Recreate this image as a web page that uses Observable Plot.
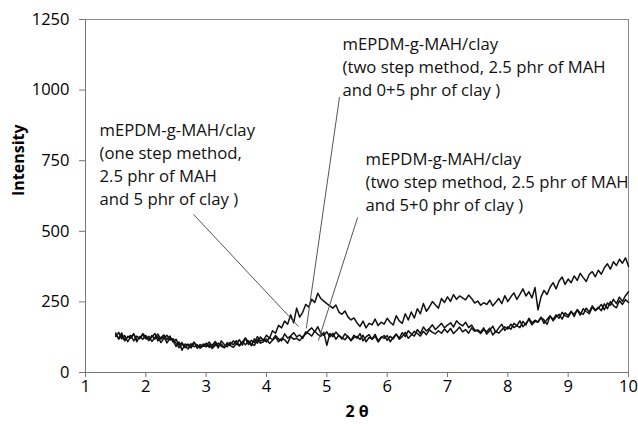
<!DOCTYPE html>
<html><head><meta charset="utf-8">
<script src="https://cdn.jsdelivr.net/npm/d3@7"></script>
<script src="https://cdn.jsdelivr.net/npm/@observablehq/plot@0.6"></script>
<style>body{margin:0;background:#fff} #chart{width:638px;height:425px}</style>
</head><body><div id="chart"></div>
<script>
const twoTheta = [
1.50,1.55,1.60,1.65,1.70,1.75,1.80,1.85,1.90,1.95,
2.00,2.05,2.10,2.15,2.20,2.25,2.30,2.35,2.40,2.45,
2.50,2.55,2.60,2.65,2.70,2.75,2.80,2.85,2.90,2.95,
3.00,3.05,3.10,3.15,3.20,3.25,3.30,3.35,3.40,3.45,
3.50,3.55,3.60,3.65,3.70,3.75,3.80,3.85,3.90,3.95,
4.00,4.05,4.10,4.15,4.20,4.25,4.30,4.35,4.40,4.45,
4.50,4.55,4.60,4.65,4.70,4.75,4.80,4.85,4.90,4.95,
5.00,5.05,5.10,5.15,5.20,5.25,5.30,5.35,5.40,5.45,
5.50,5.55,5.60,5.65,5.70,5.75,5.80,5.85,5.90,5.95,
6.00,6.05,6.10,6.15,6.20,6.25,6.30,6.35,6.40,6.45,
6.50,6.55,6.60,6.65,6.70,6.75,6.80,6.85,6.90,6.95,
7.00,7.05,7.10,7.15,7.20,7.25,7.30,7.35,7.40,7.45,
7.50,7.55,7.60,7.65,7.70,7.75,7.80,7.85,7.90,7.95,
8.00,8.05,8.10,8.15,8.20,8.25,8.30,8.35,8.40,8.45,
8.50,8.55,8.60,8.65,8.70,8.75,8.80,8.85,8.90,8.95,
9.00,9.05,9.10,9.15,9.20,9.25,9.30,9.35,9.40,9.45,
9.50,9.55,9.60,9.65,9.70,9.75,9.80,9.85,9.90,9.95,
10.00];

// two step method, 0+5 phr of clay
const twoStep05 = [
140,118,132,112,128,121,136,109,127,118,
131,115,126,138,112,124,133,117,129,108,
118,97,106,88,101,93,108,86,99,92,
104,89,97,110,94,101,88,106,98,112,
101,116,97,122,108,95,119,104,126,113,
132,121,148,139,167,158,182,171,204,176,
228,196,213,241,232,259,248,281,262,253,
244,236,228,239,214,206,218,197,186,193,
176,163,182,158,174,169,189,166,178,171,
192,178,168,201,183,174,208,186,214,193,
226,208,244,217,232,251,239,228,262,248,
268,252,276,259,271,264,257,274,262,246,
253,238,247,241,256,236,249,262,244,272,
251,268,282,259,277,296,271,286,264,301,
222,268,291,276,302,318,296,324,338,312,
331,318,342,326,351,336,322,348,357,339,
362,348,371,385,366,392,379,401,387,406,
376];

// one step method, 5 phr of clay
const oneStep = [
128,142,119,131,109,126,137,115,124,133,
119,128,110,124,136,118,127,105,122,114,
92,108,79,101,95,87,104,98,89,101,
96,108,92,103,87,112,99,91,107,98,
113,96,108,121,99,114,106,127,111,118,
108,124,116,131,119,112,137,122,129,141,
126,133,121,144,138,129,147,135,128,142,
96,138,127,143,131,119,137,126,114,132,
121,138,112,126,134,117,129,108,123,131,
114,128,119,135,122,141,127,148,136,129,
152,138,161,147,156,169,152,163,174,158,
168,176,161,183,172,165,178,159,168,151,
147,138,152,144,157,133,146,139,151,162,
154,171,159,166,183,162,174,188,169,181,
178,194,186,171,199,188,204,192,213,201,
196,214,207,221,203,226,216,208,231,219,
228,241,222,246,238,259,244,267,252,272,
286];

// two step method, 5+0 phr of clay
const twoStep50 = [
134,121,140,116,125,131,112,129,120,138,
124,113,131,119,127,106,121,132,115,120,
104,88,99,94,83,102,91,97,86,95,
91,99,85,96,104,93,88,101,95,89,
102,94,109,98,112,101,96,116,104,109,
118,103,114,125,109,121,116,104,127,118,
121,113,127,136,149,158,144,162,139,131,
144,126,139,118,132,123,116,129,112,124,
128,117,132,109,124,119,135,112,126,121,
131,109,124,136,118,127,142,121,133,146,
138,129,146,134,151,142,137,148,139,154,
142,156,138,149,161,144,152,139,158,146,
151,143,158,136,149,164,142,158,171,149,
162,153,174,166,159,181,168,192,176,185,
179,196,174,188,201,183,197,206,189,211,
202,217,198,223,211,206,228,214,236,221,
231,219,243,226,251,237,229,254,241,258,
248];

const xTicks = [1,2,3,4,5,6,7,8,9,10];
const yTicks = [0,250,500,750,1000,1250];
const xTitle = "2 θ";
const yTitle = "Intensity";

const labelTexts = [
  "mEPDM-g-MAH/clay\n(one step method,\n2.5 phr of MAH\nand 5 phr of clay )",
  "mEPDM-g-MAH/clay\n(two step method, 2.5 phr of MAH\nand 0+5 phr of clay )",
  "mEPDM-g-MAH/clay\n(two step method, 2.5 phr of MAH\nand 5+0 phr of clay )"
];
const labelX = [1.232, 5.26, 5.641];
const labelY = [742, 1087, 680];
// leader lines: from label (x1,y1) to curve (x2,y2)
const leadX1 = [2.79, 5.21, 5.51];
const leadY1 = [560, 975, 549];
const leadX2 = [4.53, 4.66, 4.86];
const leadY2 = [163, 156, 113];

const seriesNames = ["one step", "two step 0+5", "two step 5+0"];
const seriesValues = [oneStep, twoStep05, twoStep50];
const rows = seriesValues.flatMap((vals, s) =>
  twoTheta.map((x, i) => ({x, y: vals[i], s: seriesNames[s]})));
const labels = labelTexts.map((t, i) => ({t, x: labelX[i], y: labelY[i]}));
const leads = leadX1.map((v, i) => ({x1: v, y1: leadY1[i], x2: leadX2[i], y2: leadY2[i]}));

const chart = Plot.plot({
  width: 638,
  height: 425,
  marginLeft: 85,
  marginRight: 10,
  marginTop: 19,
  marginBottom: 53,
  style: {fontFamily: "Open Sans", fontSize: "16px", color: "#000", background: "#fff"},
  x: {domain: [1, 10]},
  y: {domain: [0, 1250]},
  marks: [
    Plot.frame({stroke: "#8a8a8a"}),
    Plot.axisX({ticks: xTicks, tickSize: 5, tickPadding: 3, label: null, stroke: "#777", fontSize: 16.5, tickFormat: d => String(d)}),
    Plot.axisY({ticks: yTicks, tickSize: 6, tickPadding: 10, label: null, stroke: "#777", fontSize: 16.5, tickFormat: d => String(d)}),
    Plot.ruleX([1], {stroke: "#777"}),
    Plot.ruleY([0], {stroke: "#777"}),
    Plot.line(rows, {x: "x", y: "y", z: "s", stroke: "#111", strokeWidth: 1.5}),
    Plot.link(leads, {x1: "x1", y1: "y1", x2: "x2", y2: "y2", stroke: "#555", strokeWidth: 1}),
    Plot.text(labels, {x: "x", y: "y", text: "t", textAnchor: "start", lineAnchor: "middle", lineHeight: 1.38, fontSize: 16.7, fill: "#111"}),
    Plot.text([yTitle], {frameAnchor: "left", dx: -67, rotate: -90, fontWeight: "bold", fontSize: 16}),
    Plot.text([xTitle], {frameAnchor: "bottom", dy: 44, fontWeight: "bold", fontSize: 16})
  ]
});
document.getElementById("chart").appendChild(chart);
</script>
</body></html>
